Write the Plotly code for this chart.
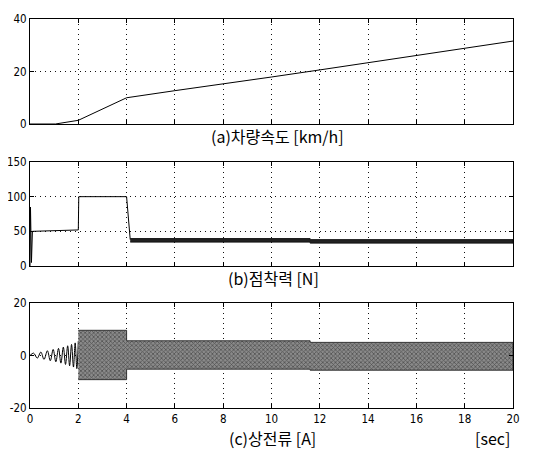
import plotly.graph_objects as go

# ---- Data ----
# (a) vehicle speed [km/h]
speed_t = [0, 1.05, 2.0, 4.0, 6.0, 8.0, 10.0, 12.0, 14.0, 16.0, 18.0, 20.0]
speed_v = [0, 0.0, 1.4, 10.0, 12.7, 15.2, 17.9, 20.6, 23.3, 26.0, 28.7, 31.6]

# (b) adhesion force [N]
force_t = [0, 0.02, 0.06, 0.1, 2.0, 2.02, 4.0, 4.15]
force_v = [0, 85, 5, 50, 52, 100, 100, 38]
force_band_t = [4.15, 11.6, 11.6, 20.0]
force_band_hi = [39.5, 39.5, 38.0, 38.0]
force_band_lo = [34.5, 34.5, 33.0, 33.0]

# (c) phase current [A] - start-up oscillation (peaks)
cur_t = [0, 0.15, 0.3, 0.45, 0.58, 0.72, 0.84, 0.96, 1.07, 1.18, 1.28, 1.38,
         1.47, 1.56, 1.64, 1.72, 1.80, 1.87, 1.94, 2.0]
cur_v = [0, 0.9, -1.0, 1.3, -1.5, 1.8, -2.0, 2.3, -2.4, 2.7, -2.9, 3.2,
         -3.4, 3.7, -3.9, 4.2, -4.4, 4.8, -5.0, 5.5]
# dense oscillation envelope
band_t = [2.0, 4.0, 4.0, 11.6, 11.6, 20.0]
band_hi = [9.6, 9.6, 5.6, 5.6, 5.0, 5.0]
band_lo = [-9.2, -9.2, -5.2, -5.2, -5.6, -5.6]

x_ticks = [0, 2, 4, 6, 8, 10, 12, 14, 16, 18, 20]
y1_ticks = [0, 20, 40]
y2_ticks = [0, 50, 100, 150]
y3_ticks = [-20, 0, 20]
y3_labels = ["-20", "0", "20"]

FONT = "Liberation Sans Narrow, DejaVu Sans Condensed, Arial, sans-serif"
KFONT = "Noto Sans CJK KR, sans-serif"

fig = go.Figure()

fig.add_trace(go.Scatter(x=speed_t, y=speed_v, mode="lines",
                         line=dict(color="black", width=1), xaxis="x", yaxis="y"))

fig.add_trace(go.Scatter(x=force_t, y=force_v, mode="lines",
                         line=dict(color="black", width=1), xaxis="x2", yaxis="y2"))
fig.add_trace(go.Scatter(x=force_band_t + force_band_t[::-1],
                         y=force_band_hi + force_band_lo[::-1],
                         mode="lines", fill="toself", fillcolor="#222",
                         line=dict(color="#111", width=1), xaxis="x2", yaxis="y2"))

fig.add_trace(go.Scatter(x=cur_t, y=cur_v, mode="lines", line_shape="spline",
                         line=dict(color="black", width=1), xaxis="x3", yaxis="y3"))
fig.add_trace(go.Scatter(x=band_t + band_t[::-1], y=band_hi + band_lo[::-1],
                         mode="lines", fill="toself", fillcolor="#555",
                         fillpattern=dict(shape="x", size=3, fgcolor="#1a1a1a",
                                          bgcolor="#8a8a8a", solidity=0.45),
                         line=dict(color="#333", width=1), xaxis="x3", yaxis="y3"))

# The page body has an 8px margin; size the figure to fit the window and
# convert reference-window pixel positions into figure fractions.
OFF = 8
W, H = 534 - OFF, 450 - OFF

def fx(px):
    return (px - OFF) / W

def fy(py):
    return 1 - (py - OFF) / H

xdom = [fx(30), fx(513)]

def ydom(top, bot):
    return [fy(bot), fy(top)]

common_axis = dict(showline=True, mirror="ticks", linecolor="black", linewidth=1,
                   ticks="inside", ticklen=4, tickcolor="black", automargin=False,
                   showgrid=True, gridcolor="#111", griddash="1px,4px", gridwidth=1,
                   zeroline=False, tickfont=dict(family=FONT, size=11.5, color="black"))

def xa(anchor, labels):
    return dict(common_axis, domain=xdom, range=[0, 20], tickvals=x_ticks,
                showticklabels=labels, anchor=anchor)

def ya(anchor, dom, rng, vals, texts=None):
    d = dict(common_axis, domain=dom, range=rng, tickvals=vals, anchor=anchor,
             ticklabelstandoff=0)
    if texts is not None:
        d["ticktext"] = texts
    return d

layout = dict(
    width=W, height=H, margin=dict(l=0, r=0, t=0, b=0),
    paper_bgcolor="white", plot_bgcolor="white", showlegend=False,
    xaxis=xa("y", False), xaxis2=xa("y2", False), xaxis3=xa("y3", True),
    yaxis=ya("x", ydom(19, 124), [0, 40], y1_ticks),
    yaxis2=ya("x2", ydom(162, 266), [0, 150], y2_ticks),
    yaxis3=ya("x3", ydom(303, 408), [-20, 20], y3_ticks, y3_labels),
)
fig.update_layout(**layout)

def label(text, xpx, ypx, xanchor="center"):
    fig.add_annotation(text=text, x=fx(xpx), y=fy(ypx), xref="paper", yref="paper",
                       showarrow=False, xanchor=xanchor, yanchor="middle",
                       font=dict(family=KFONT, size=16, color="black"))

label("(a)차량속도 [km/h]", 277, 136)
label("(b)점착력 [N]", 273, 278)
label("(c)상전류 [A]", 272, 438)
label("[sec]", 492, 438)

fig.write_html("out.html")
